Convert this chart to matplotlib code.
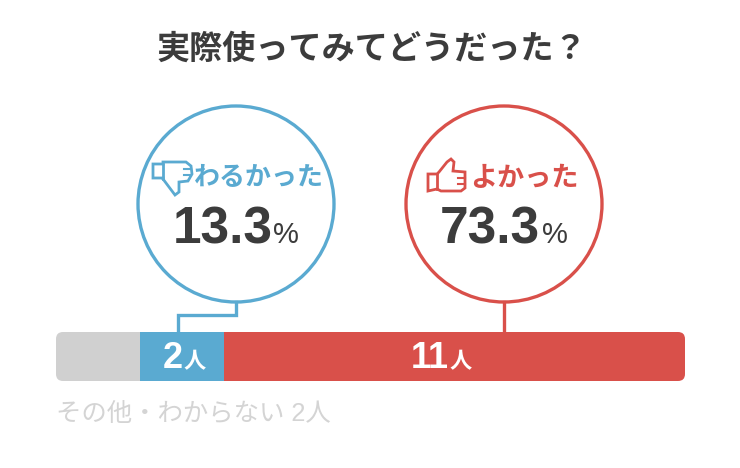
import matplotlib.pyplot as plt
from matplotlib.patches import Circle, FancyBboxPatch, Polygon

plt.rcParams['font.family'] = ['Noto Sans CJK JP', 'DejaVu Sans']

title = '実際使ってみてどうだった？'
counts = [2, 2, 11]
colors = ['#d0d0d0', '#5aaad1', '#d9504a']
count_labels = ['', '2', '11']
bad_label = 'わるかった'
good_label = 'よかった'
bad_pct = '13.3'
good_pct = '73.3'
other_label = 'その他・わからない 2人'

BLUE = '#5aaad1'
RED = '#d9504a'
DARK = '#3c3c3c'
LATIN = ['Liberation Sans', 'Noto Sans CJK JP']

fig = plt.figure(figsize=(7.4, 4.68), dpi=100)
ax = fig.add_axes([0, 0, 1, 1])
ax.set_xlim(0, 740)
ax.set_ylim(468, 0)
ax.axis('off')

ax.text(372, 49, title, fontsize=23.9, fontweight='bold', color=DARK, ha='center', va='center')

# circles and connectors
ax.add_patch(Circle((236, 204), 98, fill=False, ec=BLUE, lw=2.4))
ax.add_patch(Circle((504, 204), 98, fill=False, ec=RED, lw=2.4))
ax.plot([236, 236, 178, 178], [302, 315, 315, 332], color=BLUE, lw=2.4, solid_joinstyle='miter')
ax.plot([504, 504], [302, 332], color=RED, lw=2.4)

ax.text(259, 178, bad_label, fontsize=18.7, fontweight='bold', color=BLUE, ha='center', va='center')
ax.text(524, 178, good_label, fontsize=19.5, fontweight='bold', color=RED, ha='center', va='center')

ax.text(173, 243, bad_pct, fontsize=37, color=DARK, ha='left', va='baseline', family=LATIN, fontweight='bold')
ax.text(273, 243, '%', fontsize=21, color=DARK, ha='left', va='baseline', family=LATIN)
ax.text(440, 243, good_pct, fontsize=37, color=DARK, ha='left', va='baseline', family=LATIN, fontweight='bold')
ax.text(542, 243, '%', fontsize=21, color=DARK, ha='left', va='baseline', family=LATIN)

# thumbs
down = [(153, 164), (163, 164), (163, 162), (186, 162), (191, 166), (192, 174), (188, 181),
        (179, 182), (179, 192), (175, 195), (163, 179), (163, 178), (153, 178)]
ax.add_patch(Polygon(down, closed=True, fill=False, ec=BLUE, lw=2))
ax.plot([163, 163], [164, 179], color=BLUE, lw=2)
ax.plot([184, 191], [169, 169], color=BLUE, lw=1.5)
ax.plot([184, 191], [175, 175], color=BLUE, lw=1.5)
up = [(428, 174), (437, 174), (439, 172), (447, 162), (451, 159), (454, 162), (453, 171),
      (465, 172), (465, 188), (461, 191), (441, 191), (437, 189), (428, 191)]
ax.add_patch(Polygon(up, closed=True, fill=False, ec=RED, lw=2))
ax.plot([437, 437], [174, 189], color=RED, lw=2)
ax.plot([458, 465], [178, 178], color=RED, lw=1.5)
ax.plot([458, 465], [184, 184], color=RED, lw=1.5)

# stacked bar
bar_ax = fig.add_axes([56 / 740, 1 - 381 / 468, 629 / 740, 49 / 468])
bar_ax.set_xlim(0, sum(counts))
bar_ax.set_ylim(0, 1)
bar_ax.axis('off')
clip = FancyBboxPatch((56, 332), 629, 49, boxstyle='round,pad=0,rounding_size=7', transform=ax.transData,
                      fc='none', ec='none')
ax.add_patch(clip)
left = 0
for n, c, lab in zip(counts, colors, count_labels):
    bars = bar_ax.barh(0.5, n, left=left, height=1, color=c, linewidth=0)
    bars[0].set_clip_path(clip)
    if lab:
        # the big label sits a little left of the segment centre
        mid = left + n / 2 - (0.15 if n > 2 else 0)
        bar_ax.text(mid + 0.02, 0.27, lab, color='white', fontsize=26, fontweight='bold', ha='right', va='baseline', family=LATIN)
        bar_ax.text(mid + 0.04, 0.27, '人', color='white', fontsize=16, fontweight='bold', ha='left', va='baseline')
    left += n

ax.text(56, 421, other_label, fontsize=18.3, color='#d4d4d4', ha='left', va='baseline', family=LATIN)

fig.savefig('out.png', dpi=100)
